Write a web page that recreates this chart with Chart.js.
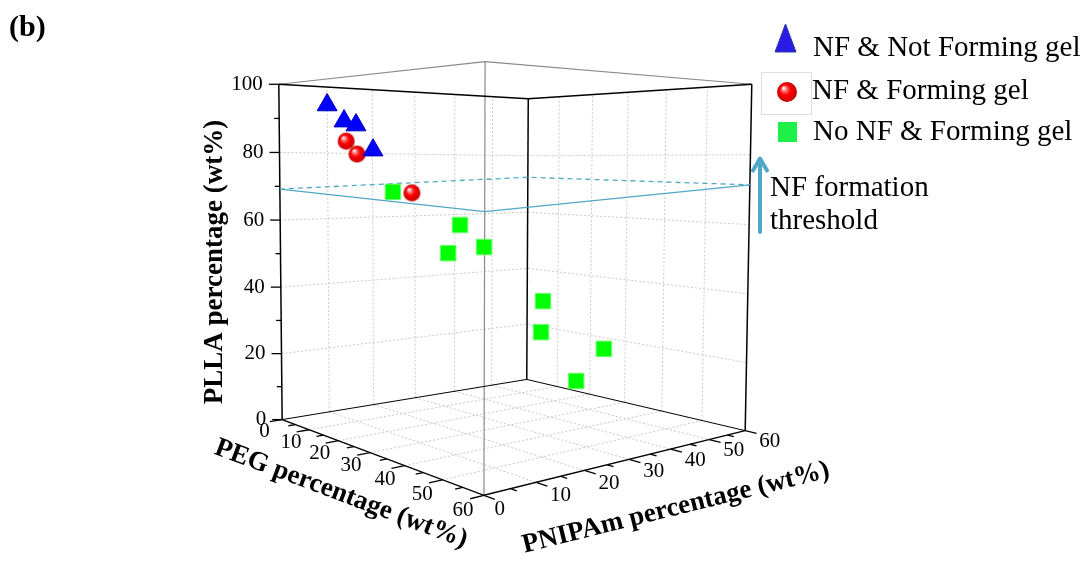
<!DOCTYPE html>
<html>
<head>
<meta charset="utf-8">
<script src="https://cdn.jsdelivr.net/npm/chart.js@4.4.1/dist/chart.umd.min.js"></script>
<style>
  html, body { margin: 0; padding: 0; background: #fff; }
  #wrap { width: 1087px; height: 563px; position: relative; }
</style>
</head>
<body>
<div id="wrap"><canvas id="chart"></canvas></div>
<script>
// ---- data (wt%) ----
const pegTicks = [0, 10, 20, 30, 40, 50, 60];
const pnipamTicks = [0, 10, 20, 30, 40, 50, 60];
const pllaTicks = [0, 20, 40, 60, 80, 100];

// NF formation threshold surface, given at the four floor corners
const thresholdPeg    = [0, 60, 60, 0];
const thresholdPnipam = [0, 0, 60, 60];
const thresholdPlla   = [69.2, 66, 71.4, 72.4];

const nfNotGelPeg    = [6.8, 10.6, 11.7, 12.6];
const nfNotGelPnipam = [6, 7.2, 9, 12];
const nfNotGelPlla   = [93.9, 89.1, 88, 80.8];

const nfGelPeg    = [11.6, 12, 16.2];
const nfGelPnipam = [7, 9, 18];
const nfGelPlla   = [83.3, 79.6, 68.3];

const noNfGelPeg    = [14.5, 22.8, 19.2, 22.3, 25.4, 24.9, 36, 28.5];
const noNfGelPnipam = [15, 24, 24, 30, 42, 42, 48, 48];
const noNfGelPlla   = [68.6, 59, 50.3, 52, 34.6, 24.8, 20.9, 9.1];

// ---- perspective camera fitted to the box corners ----
// [u, v, w] = (PEG/60, PNIPAm/60, PLLA/100), then screen x, y
const boxCorners = [
  [0, 0, 0, 282, 419], [1, 0, 0, 484, 496], [1, 1, 0, 745, 430], [0, 1, 0, 527, 380],
  [0, 0, 1, 279, 84],  [1, 0, 1, 485, 62],  [1, 1, 1, 752, 84],  [0, 1, 1, 528, 99]
];

function fitCamera(corners) {
  const n = 11;
  const M = Array.from({ length: n }, () => new Array(n).fill(0));
  const r = new Array(n).fill(0);
  const addRow = (row, b) => {
    for (let i = 0; i < n; i++) {
      r[i] += row[i] * b;
      for (let j = 0; j < n; j++) M[i][j] += row[i] * row[j];
    }
  };
  corners.forEach(([u, v, w, x, y]) => {
    addRow([u, v, w, 1, 0, 0, 0, 0, -x * u, -x * v, -x * w], x);
    addRow([0, 0, 0, 0, u, v, w, 1, -y * u, -y * v, -y * w], y);
  });
  for (let c = 0; c < n; c++) {
    let piv = c;
    for (let i = c + 1; i < n; i++) if (Math.abs(M[i][c]) > Math.abs(M[piv][c])) piv = i;
    [M[c], M[piv]] = [M[piv], M[c]];
    [r[c], r[piv]] = [r[piv], r[c]];
    for (let i = 0; i < n; i++) {
      if (i === c) continue;
      const f = M[i][c] / M[c][c];
      for (let j = c; j < n; j++) M[i][j] -= f * M[c][j];
      r[i] -= f * r[c];
    }
  }
  return r.map((val, i) => val / M[i][i]);
}

const cam = fitCamera(boxCorners);

function proj(peg, pn, plla) {
  const u = peg / 60, v = pn / 60, w = plla / 100;
  const d = cam[8] * u + cam[9] * v + cam[10] * w + 1;
  return {
    x: (cam[0] * u + cam[1] * v + cam[2] * w + cam[3]) / d,
    y: (cam[4] * u + cam[5] * v + cam[6] * w + cam[7]) / d
  };
}

const toPoints = (peg, pn, plla) => peg.map((_, i) => proj(peg[i], pn[i], plla[i]));

// ---- markers ----
function makeSphere(r) {
  const c = document.createElement('canvas');
  c.width = c.height = Math.ceil(2 * r + 2);
  const g = c.getContext('2d');
  const m = c.width / 2;
  const grad = g.createRadialGradient(m - 0.35 * r, m - 0.4 * r, 0.5, m, m, r);
  grad.addColorStop(0, '#ffffff');
  grad.addColorStop(0.2, '#ff7a7a');
  grad.addColorStop(0.5, '#ff0000');
  grad.addColorStop(1, '#c40000');
  g.fillStyle = grad;
  g.beginPath();
  g.arc(m, m, r, 0, Math.PI * 2);
  g.fill();
  return c;
}
const sphere = makeSphere(8.5);
const legendSphere = makeSphere(10);

const serif = '"Liberation Serif", "Times New Roman", serif';
const gridColor = '#c8c8c8';
const teal = '#4fa8c6';

const framePlugin = {
  id: 'frame3d',
  beforeDatasetsDraw(chart) {
    const ctx = chart.ctx;
    const sx = chart.scales.x, sy = chart.scales.y;
    const pt = (peg, pn, plla) => {
      const p = proj(peg, pn, plla);
      return [sx.getPixelForValue(p.x), sy.getPixelForValue(p.y)];
    };
    const seg = (a, b) => {
      ctx.beginPath();
      ctx.moveTo(a[0], a[1]);
      ctx.lineTo(b[0], b[1]);
      ctx.stroke();
    };
    const poly = (pts) => {
      ctx.beginPath();
      ctx.moveTo(pts[0][0], pts[0][1]);
      pts.slice(1).forEach(p => ctx.lineTo(p[0], p[1]));
      ctx.stroke();
    };
    ctx.save();

    // grid on back walls and floor
    ctx.strokeStyle = gridColor;
    ctx.lineWidth = 1;
    ctx.setLineDash([2, 2]);
    pnipamTicks.slice(1, -1).forEach(pn => {
      seg(pt(0, pn, 0), pt(0, pn, 100));
      seg(pt(0, pn, 0), pt(60, pn, 0));
    });
    pegTicks.slice(1, -1).forEach(peg => {
      seg(pt(peg, 60, 0), pt(peg, 60, 100));
      seg(pt(peg, 0, 0), pt(peg, 60, 0));
    });
    pllaTicks.slice(1, -1).forEach(z => {
      poly([pt(0, 0, z), pt(0, 60, z), pt(60, 60, z)]);
    });
    ctx.setLineDash([]);

    // box: front edges grey, back edges black
    ctx.strokeStyle = '#8a8a8a';
    ctx.lineWidth = 1.2;
    poly([pt(0, 0, 100), pt(60, 0, 100), pt(60, 60, 100)]);
    seg(pt(60, 0, 0), pt(60, 0, 100));
    ctx.strokeStyle = '#000';
    ctx.lineWidth = 1;
    poly([pt(0, 0, 0), pt(0, 60, 0), pt(60, 60, 0)]);
    ctx.lineWidth = 1.5;
    poly([pt(0, 0, 100), pt(0, 60, 100), pt(60, 60, 100)]);
    seg(pt(0, 60, 0), pt(0, 60, 100));
    seg(pt(60, 60, 0), pt(60, 60, 100));
    seg(pt(0, 0, 0), pt(0, 0, 100));
    poly([pt(0, 0, 0), pt(60, 0, 0), pt(60, 60, 0)]);

    // threshold surface: front edges solid, back edges dashed
    const th = thresholdPlla.map((z, i) => pt(thresholdPeg[i], thresholdPnipam[i], z));
    ctx.strokeStyle = teal;
    ctx.lineWidth = 1.3;
    ctx.setLineDash([5, 4]);
    poly([th[0], th[3], th[2]]);
    ctx.setLineDash([]);
    poly([th[0], th[1], th[2]]);

    // ticks
    ctx.strokeStyle = '#000';
    ctx.lineWidth = 1.3;
    for (let z = 0; z <= 100; z += 10) {
      const p = pt(0, 0, z);
      seg(p, [p[0] - (z % 20 === 0 ? 10 : 5), p[1]]);
    }
    for (let k = 0; k <= 60; k += 5) {
      const len = k % 10 === 0 ? 2.5 : 1.4;
      seg(pt(k, 0, 0), pt(k, -len, 0));
      seg(pt(60, k, 0), pt(60 + len, k, 0));
    }

    // tick labels
    ctx.fillStyle = '#000';
    ctx.font = '21px ' + serif;
    ctx.textBaseline = 'middle';
    ctx.textAlign = 'right';
    pllaTicks.forEach(z => {
      const p = pt(0, 0, z);
      ctx.fillText(String(z), p[0] - 16, p[1]);
    });
    ctx.textAlign = 'center';
    pegTicks.forEach(k => {
      const p = pt(k, -5, 0);
      ctx.fillText(String(k), p[0] + 7, p[1] + 8);
    });
    pnipamTicks.forEach(k => {
      const p = pt(66, k, 0);
      ctx.fillText(String(k), p[0] - (k === 0 ? 11 : 3), p[1] + 4);
    });

    // axis titles
    const title = (text, x, y, ang) => {
      ctx.save();
      ctx.translate(x, y);
      ctx.rotate(ang);
      ctx.font = 'bold 27px ' + serif;
      ctx.textAlign = 'center';
      ctx.textBaseline = 'middle';
      ctx.fillText(text, 0, 0);
      ctx.restore();
    };
    const a0 = pt(0, 0, 0), a1 = pt(60, 0, 0), a2 = pt(60, 60, 0);
    title('PLLA percentage (wt%)', 215, 262, -Math.PI / 2);
    title('PEG percentage (wt%)', 341, 494, Math.atan2(a1[1] - a0[1], a1[0] - a0[0]));
    title('PNIPAm percentage (wt%)', 676, 508, Math.atan2(a2[1] - a1[1], a2[0] - a1[0]));

    // panel letter
    ctx.font = 'bold 30px ' + serif;
    ctx.textAlign = 'left';
    ctx.fillText('(b)', 9, 28);

    // legend
    ctx.font = '29px ' + serif;
    ctx.textAlign = 'left';
    ctx.fillStyle = '#2a1ae6';
    ctx.strokeStyle = '#2a3a9a';
    ctx.lineWidth = 1;
    ctx.beginPath();
    ctx.moveTo(785.5, 24);
    ctx.lineTo(796, 52);
    ctx.lineTo(775, 52);
    ctx.closePath();
    ctx.fill();
    ctx.stroke();
    ctx.strokeStyle = '#dedede';
    ctx.strokeRect(761.5, 72.5, 50, 42);
    ctx.drawImage(legendSphere, 787 - legendSphere.width / 2, 92 - legendSphere.height / 2);
    ctx.fillStyle = '#1ef04a';
    ctx.fillRect(778, 122, 19, 20);
    ctx.fillStyle = '#000';
    ctx.fillText('NF & Not Forming gel', 813, 48);
    ctx.fillText('NF & Forming gel', 812, 91);
    ctx.fillText('No NF & Forming gel', 813, 132);

    // threshold annotation
    ctx.fillText('NF formation', 770, 188);
    ctx.fillText('threshold', 770, 221);
    ctx.strokeStyle = teal;
    ctx.lineWidth = 4;
    ctx.lineCap = 'round';
    ctx.lineJoin = 'round';
    seg([760, 232], [760, 159]);
    poly([[753, 170.5], [760, 158.5], [767, 170.5]]);

    ctx.restore();
  }
};

new Chart(document.getElementById('chart'), {
  type: 'scatter',
  data: {
    datasets: [
      {
        label: 'NF & Not Forming gel',
        data: toPoints(nfNotGelPeg, nfNotGelPnipam, nfNotGelPlla),
        pointStyle: 'triangle',
        pointRadius: 11.5,
        backgroundColor: '#0000ff',
        borderColor: '#0000c0',
        borderWidth: 1
      },
      {
        label: 'NF & Forming gel',
        data: toPoints(nfGelPeg, nfGelPnipam, nfGelPlla),
        pointStyle: sphere,
        pointRadius: 8.5
      },
      {
        label: 'No NF & Forming gel',
        data: toPoints(noNfGelPeg, noNfGelPnipam, noNfGelPlla),
        pointStyle: 'rect',
        pointRadius: 11,
        backgroundColor: '#00ff00',
        borderColor: '#70ff70',
        borderWidth: 1
      }
    ]
  },
  options: {
    responsive: true,
    maintainAspectRatio: false,
    animation: false,
    layout: { padding: 0, autoPadding: false },
    scales: {
      x: { type: 'linear', min: 0, max: 1087, display: false },
      y: { type: 'linear', min: 0, max: 563, reverse: true, display: false }
    },
    plugins: {
      legend: { display: false },
      tooltip: { enabled: false }
    }
  },
  plugins: [framePlugin]
});
</script>
</body>
</html>
